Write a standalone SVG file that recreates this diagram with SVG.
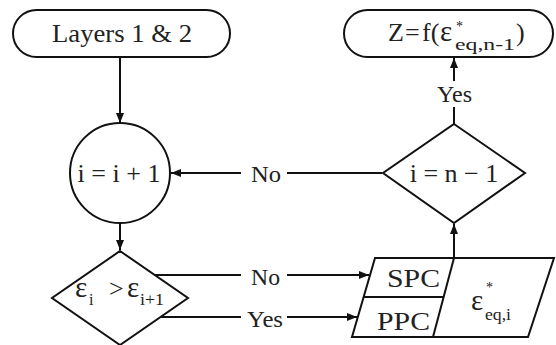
<svg xmlns="http://www.w3.org/2000/svg" width="556" height="345" viewBox="0 0 556 345">
<defs>
<marker id="ah" viewBox="0 0 10 8" refX="10" refY="4" markerWidth="10" markerHeight="8" markerUnits="userSpaceOnUse" orient="auto">
<path d="M0,0 L10,4 L0,8 Z" fill="#111"/>
</marker>
</defs>
<style>
.shape{fill:#fff;stroke:#111;stroke-width:2}
.line{fill:none;stroke:#111;stroke-width:2}
.arr{fill:none;stroke:#111;stroke-width:2;marker-end:url(#ah)}
text{font-family:"Liberation Serif","Times New Roman",serif;fill:#222;font-size:26px}
.lbl{font-size:24px}
.sub{font-size:16px}
.ast{font-size:14px}
.eps{font-size:29px}
.c{text-anchor:middle}
</style>
<rect width="556" height="345" fill="#fff"/>
<g id="connectors">
<line class="arr" x1="120" y1="57" x2="120" y2="123"/>
<line class="arr" x1="120" y1="223" x2="120" y2="250"/>
<line class="line" x1="382" y1="173" x2="287" y2="173"/>
<line class="arr" x1="241" y1="173" x2="171" y2="173"/>
<line class="line" x1="454" y1="124" x2="454" y2="107"/>
<line class="arr" x1="454" y1="81" x2="454" y2="58"/>
<line class="arr" x1="454" y1="258" x2="454" y2="224"/>
<line class="line" x1="155" y1="275" x2="241" y2="275"/>
<line class="arr" x1="287" y1="275" x2="369" y2="275"/>
<line class="line" x1="161" y1="317" x2="241" y2="317"/>
<line class="arr" x1="287" y1="317" x2="357" y2="317"/>
<text class="lbl" x="251" y="182" textLength="30" lengthAdjust="spacingAndGlyphs">No</text>
<text class="lbl" x="437" y="102" textLength="35" lengthAdjust="spacingAndGlyphs">Yes</text>
<text class="lbl" x="251" y="285" textLength="29" lengthAdjust="spacingAndGlyphs">No</text>
<text class="lbl" x="247" y="327" textLength="36" lengthAdjust="spacingAndGlyphs">Yes</text>
</g>
<g id="layers">
<rect class="shape" x="13" y="10" width="217" height="47" rx="23.5"/>
<text x="52" y="42" textLength="140" lengthAdjust="spacingAndGlyphs">Layers 1 &amp; 2</text>
</g>
<g id="zresult">
<rect class="shape" x="344" y="10" width="209" height="47" rx="23.5"/>
<text x="388" y="41"><tspan>Z</tspan><tspan x="405">=</tspan><tspan x="422">f(</tspan></text>
<text class="eps" x="440" y="41">ε</text>
<text class="ast" x="456" y="31">*</text>
<text class="sub" x="455" y="50" textLength="60" lengthAdjust="spacingAndGlyphs">eq,n-1</text>
<text x="516" y="41">)</text>
</g>
<g id="increment">
<circle class="shape" cx="120" cy="173" r="50"/>
<text class="c" x="119" y="182">i = i + 1</text>
</g>
<g id="check-n">
<polygon class="shape" points="454,124 525,173 454,223 383,173"/>
<text class="c" x="454" y="182">i = n − 1</text>
</g>
<g id="compare">
<polygon class="shape" points="120,251 188,298 120,345 52,298"/>
<text class="eps" x="75" y="297">ε</text>
<text class="sub" x="89" y="305">i</text>
<text x="109" y="297">&gt;</text>
<text class="eps" x="127" y="297">ε</text>
<text class="sub" x="140" y="305" textLength="24" lengthAdjust="spacingAndGlyphs">i+1</text>
</g>
<g id="output">
<polygon class="shape" points="375,258 554,258 528,337 352,337"/>
<line class="line" x1="454" y1="258" x2="433" y2="337"/>
<line class="line" x1="364" y1="297" x2="444" y2="297"/>
<text x="387" y="287" textLength="53" lengthAdjust="spacingAndGlyphs">SPC</text>
<text x="377" y="330" textLength="53" lengthAdjust="spacingAndGlyphs">PPC</text>
<text class="eps" x="471" y="310">ε</text>
<text class="ast" x="486" y="292">*</text>
<text class="sub" x="485" y="320" textLength="26" lengthAdjust="spacingAndGlyphs">eq,i</text>
</g>
</svg>
